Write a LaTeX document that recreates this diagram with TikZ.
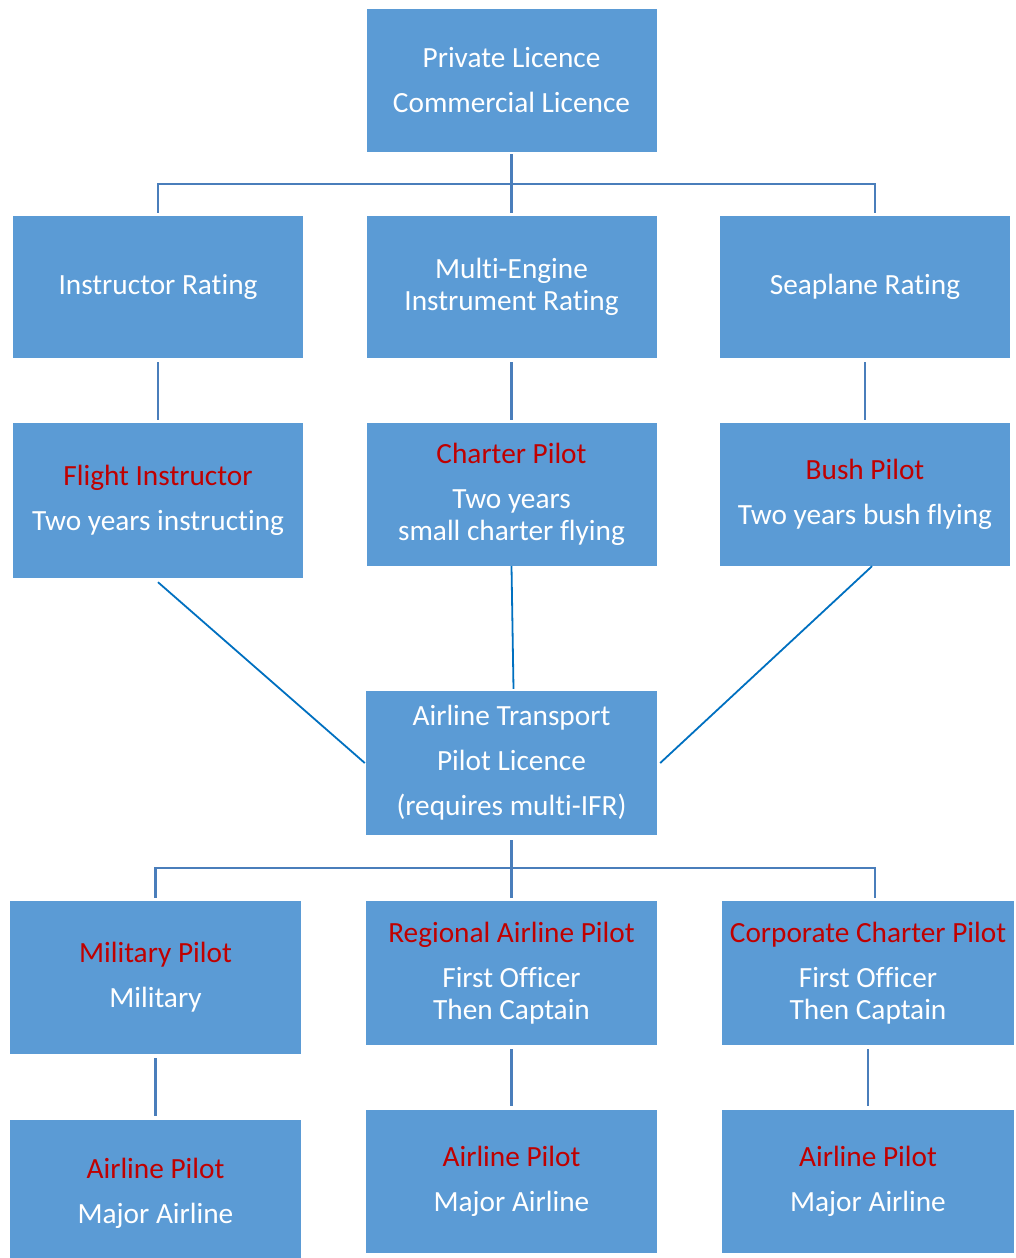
\documentclass[tikz,border=0pt]{standalone}
\usepackage{fontspec}
\setmainfont{Carlito}[Ligatures=NoCommon]
\usepackage{xcolor}
\usepackage{tikz}
\usetikzlibrary{positioning}

\definecolor{boxblue}{HTML}{5B9BD5}
\definecolor{pilotred}{HTML}{C00000}
\definecolor{linkblue}{HTML}{4A7EBB}
\definecolor{slantblue}{HTML}{0070C0}

\newcommand{\jobtitle}[1]{\textcolor{pilotred}{#1}}

\begin{document}
\begin{tikzpicture}[x=1pt, y=1pt,
    every node/.style={font=\fontsize{29.3}{32}\selectfont},
    card/.style={fill=boxblue, text=white, align=center, inner sep=0pt,
                 minimum width=290pt, minimum height=143pt},
    link/.style={linkblue, line width=2.5pt},
    slant/.style={slantblue, line width=1.8pt}]
    \useasboundingbox (0,0) rectangle (1015,-1258);

    % Licences
    \node[card] (licence) at (511.5,-80.5) {Private Licence\\[13pt]Commercial Licence};

    % Ratings
    \node[card, minimum height=142pt] (instr) at (158,-287) {Instructor Rating};
    \node[card, minimum height=142pt] (multi) at (511.5,-287) {Multi-Engine\\Instrument Rating};
    \node[card, minimum height=142pt] (seaplane) at (865,-287) {Seaplane Rating};

    % Experience jobs
    \node[card, minimum height=155pt] (flightinstr) at (158,-500.5)
        {\jobtitle{Flight Instructor}\\[13pt]Two years instructing};
    \node[card] (charter) at (511.5,-494.5)
        {\jobtitle{Charter Pilot}\\[13pt]Two years\\small charter flying};
    \node[card] (bush) at (865,-494.5)
        {\jobtitle{Bush Pilot}\\[13pt]Two years bush flying};

    % ATPL
    \node[card, minimum width=291pt, minimum height=144pt] (atpl) at (511.5,-763)
        {Airline Transport\\[13pt]Pilot Licence\\[13pt](requires multi-IFR)};

    % First jobs
    \node[card, minimum width=291pt, minimum height=153pt] (military) at (155.5,-977.5)
        {\jobtitle{Military Pilot}\\[13pt]Military};
    \node[card, minimum width=291pt, minimum height=144pt] (regional) at (511.5,-973)
        {\jobtitle{Regional Airline Pilot}\\[13pt]First Officer\\Then Captain};
    \node[card, minimum width=292pt, minimum height=144pt] (corporate) at (868,-973)
        {\jobtitle{Corporate Charter Pilot}\\[13pt]First Officer\\Then Captain};

    % Major airline
    \node[card, minimum width=291pt, minimum height=146pt] (majorA) at (155.5,-1193)
        {\jobtitle{Airline Pilot}\\[13pt]Major Airline};
    \node[card, minimum width=291pt] (majorB) at (511.5,-1181.5)
        {\jobtitle{Airline Pilot}\\[13pt]Major Airline};
    \node[card, minimum width=292pt] (majorC) at (868,-1181.5)
        {\jobtitle{Airline Pilot}\\[13pt]Major Airline};

    % Tree links
    \coordinate (topbar) at (511.5,-184);
    \draw[link] ([yshift=-2pt]licence.south) -- ([yshift=3pt]multi.north);
    \draw[link] ([yshift=3pt]instr.north) |- (topbar) -| ([xshift=10pt,yshift=3pt]seaplane.north);

    \draw[link] ([yshift=-4pt]instr.south) -- ([yshift=3pt]flightinstr.north);
    \draw[link] ([yshift=-4pt]multi.south) -- ([yshift=3pt]charter.north);
    \draw[link] ([yshift=-4pt]seaplane.south) -- ([yshift=3pt]bush.north);

    \draw[slant] ([yshift=-4pt]flightinstr.south) -- ([xshift=-1pt]atpl.west);
    \draw[slant] (charter.south) -- ([xshift=2pt,yshift=2pt]atpl.north);
    \draw[slant] ([xshift=7pt]bush.south) -- ([xshift=3pt]atpl.east);

    \coordinate (lowbar) at (511.5,-868);
    \draw[link] ([yshift=-5pt]atpl.south) -- ([yshift=3pt]regional.north);
    \draw[link] ([yshift=3pt]military.north) |- (lowbar) -| ([xshift=7pt,yshift=3pt]corporate.north);

    \draw[link] ([yshift=-4pt]military.south) -- ([yshift=4pt]majorA.north);
    \draw[link] ([yshift=-4pt]regional.south) -- ([yshift=4pt]majorB.north);
    \draw[link] ([yshift=-4pt]corporate.south) -- ([yshift=4pt]majorC.north);
\end{tikzpicture}
\end{document}
